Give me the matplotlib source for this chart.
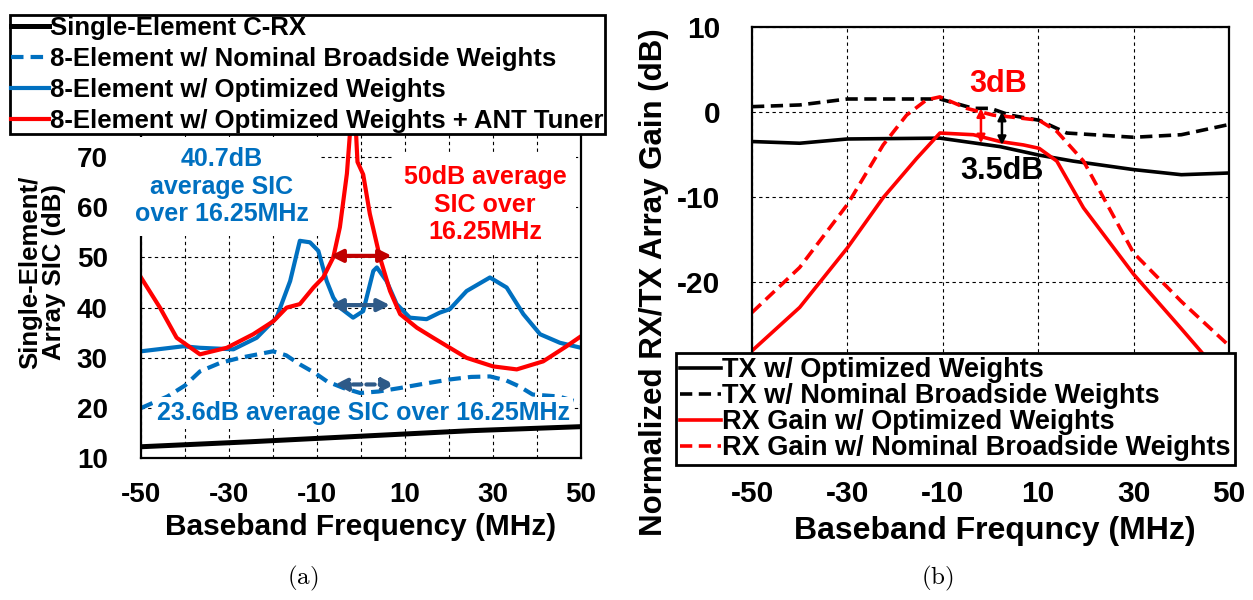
import numpy as np
import matplotlib
matplotlib.use("Agg")
import matplotlib.pyplot as plt

plt.rcParams["font.family"] = ["Liberation Sans", "DejaVu Sans"]
plt.rcParams["font.weight"] = "bold"
plt.rcParams["mathtext.fontset"] = "cm"
plt.rcParams["axes.unicode_minus"] = False

##### (a) SIC data
f_single = [-50, -25, 0, 25, 50]
sic_single = [12.3, 13.3, 14.4, 15.5, 16.3]

f_nominal = [-50, -44, -40, -36.6, -32, -27.5, -20, -17, -13.9, -10.5, -7.7, -4, -0.2, 4, 8.9, 14, 20.2, 25, 29.3, 33, 36, 39, 45, 50]
sic_nominal = [20.0, 22.3, 24.5, 27.3, 29.0, 30.0, 31.3, 30.5, 28.7, 27.0, 25.3, 24.0, 23.0, 23.3, 24.0, 24.8, 25.7, 26.2, 26.3, 25.5, 24.3, 22.7, 22.3, 21.0]

f_opt = [-50, -40.4, -36.6, -29, -23.7, -19.2, -16.1, -13.9, -11.6, -9.7, -7.8, -6.3, -4.8, -1.8, 0.5, 2.8, 3.6, 5.8, 8.1, 11.1, 14.9, 17.9, 20.2, 24, 29.3, 33.1, 36.9, 40.7, 45.2, 50]
sic_opt = [31.3, 32.3, 32.0, 31.7, 34.0, 38.0, 45.3, 53.3, 53.0, 51.3, 45.3, 42.0, 40.0, 38.0, 39.3, 47.3, 48.0, 45.3, 40.7, 38.0, 37.7, 39.0, 39.7, 43.3, 46.0, 44.0, 38.7, 34.7, 33.0, 32.0]

f_tuner = [-50, -45.7, -41.9, -36.6, -30.5, -24.5, -19.9, -16.9, -13.9, -10.8, -8.6, -6.3, -4.8, -3.2, -2.4, -1.8, -1.2, -0.8, 0.5, 2, 4.3, 6.6, 8.9, 12.7, 16.4, 24, 30, 35.4, 41.4, 46.7, 50]
sic_tuner = [46.0, 40.0, 34.0, 30.7, 32.0, 34.7, 37.3, 40.0, 40.7, 44.0, 46.0, 50.0, 56.0, 66.7, 76.0, 80.0, 76.0, 69.0, 66.5, 58.7, 50.0, 43.3, 38.7, 36.0, 34.0, 30.0, 28.3, 27.7, 29.3, 32.3, 34.3]

##### (b) gain data
f_tx_opt = [-50, -40, -30, -10.6, 2, 10.2, 17.3, 30, 40, 50]
g_tx_opt = [-3.5, -3.7, -3.2, -3.1, -4.1, -5.1, -5.8, -6.8, -7.4, -7.2]
f_tx_nom = [-50, -40, -30, -10.6, -3.6, 0, 4.1, 10.2, 16, 30, 40, 50]
g_tx_nom = [0.6, 0.8, 1.5, 1.5, 0.4, 0.4, -0.4, -1.0, -2.5, -3.0, -2.7, -1.5]
f_rx_opt = [-50, -40, -30, -22.5, -15.5, -10.6, -3.6, 2, 6.9, 10.2, 13.9, 19.5, 30, 40, 50]
g_rx_opt = [-28.1, -23.0, -16.0, -10.1, -5.5, -2.5, -2.7, -3.5, -3.9, -4.3, -5.8, -11.3, -19.1, -25.5, -32.0]
f_rx_nom = [-50, -40, -30, -22.5, -17.6, -13.4, -10.6, -5, 0.6, 4.1, 10.2, 13.9, 19.5, 30, 40, 50]
g_rx_nom = [-23.6, -18.3, -10.9, -3.9, -0.4, 1.4, 1.75, 0.4, -0.4, -0.6, -1.0, -2.3, -5.8, -16.6, -22.3, -27.5]

W, H = 1253, 600
BLUE = "#0070C0"
RED = "#FF0000"
DRED = "#C00000"
DBLUE = "#2E5A88"

fig = plt.figure(figsize=(W / 100, H / 100), dpi=100)
ax1 = fig.add_axes([141 / W, 1 - 458.3 / H, 440 / W, 351.6 / H])
ax2 = fig.add_axes([752 / W, 1 - 452 / H, 477 / W, 425.3 / H])

grid_kw = dict(color="black", linestyle=(0, (3, 3)), linewidth=0.8)

#### (a)
ax1.plot(f_single, sic_single, color="black", lw=3.6, label="Single-Element C-RX", zorder=5)
ax1.plot(f_nominal, sic_nominal, color=BLUE, lw=3, dashes=(3, 1.7), label="8-Element w/ Nominal Broadside Weights")
ax1.plot(f_opt, sic_opt, color=BLUE, lw=3, label="8-Element w/ Optimized Weights")
ax1.plot(f_tuner, sic_tuner, color=RED, lw=3, label="8-Element w/ Optimized Weights + ANT Tuner")
ax1.set_xlim(-50, 50)
ax1.set_ylim(10, 80)
ax1.set_xticks(np.arange(-50, 51, 10))
ax1.set_xticklabels(["-50", "", "-30", "", "-10", "", "10", "", "30", "", "50"])
ax1.set_yticks(np.arange(10, 71, 10))
ax1.tick_params(length=0, labelsize=20, pad=17)
ax1.tick_params(axis="y", pad=24)
ax1.set_axisbelow(True)
ax1.grid(True, **grid_kw)
for s in ax1.spines.values():
    s.set_linewidth(1.6)

box = dict(boxstyle="square,pad=0.4", fc="white", ec="none")
ax1.text(-31.6, 64.1, "40.7dB\naverage SIC\nover 16.25MHz", color=BLUE, fontsize=18,
         ha="center", va="center", bbox=box, zorder=4)
ax1.text(28.2, 60.5, "50dB average\nSIC over\n16.25MHz", color=RED, fontsize=18,
         ha="center", va="center", bbox=box, zorder=4)
ax1.text(0.5, 19.0, "23.6dB average SIC over 16.25MHz", color=BLUE, fontsize=18,
         ha="center", va="center", bbox=dict(boxstyle="square,pad=0.15", fc="white", ec="none"), zorder=4)

ax1.annotate("", xy=(7, 50.3), xytext=(-7, 50.3),
             arrowprops=dict(arrowstyle="<|-|>", color=DRED, lw=3, mutation_scale=18, shrinkA=0, shrinkB=0))
ax1.annotate("", xy=(6.6, 40.5), xytext=(-7, 40.5),
             arrowprops=dict(arrowstyle="<|-|>", color=DBLUE, lw=3, mutation_scale=18, shrinkA=0, shrinkB=0))
ax1.annotate("", xy=(7.7, 24.7), xytext=(-5.9, 24.7),
             arrowprops=dict(arrowstyle="<|-|>", color=DBLUE, lw=3, ls=(0, (2, 1.2)), mutation_scale=18, shrinkA=0, shrinkB=0))

fig.text(42 / W, 1 - 272 / H, "Single-Element/\nArray SIC (dB)", rotation=90, fontsize=18.5,
         ha="center", va="center", multialignment="center", linespacing=1.0)
fig.text(361 / W, 1 - 527 / H, "Baseband Frequency (MHz)", fontsize=21.5, ha="center", va="center")
fig.text(303 / W, 1 - 578 / H, r"$\mathrm{(a)}$", fontsize=18, ha="center", va="center")

leg1 = fig.legend(handles=ax1.get_lines(), loc="upper left", bbox_to_anchor=(10 / W, 1 - 15 / H),
                  fontsize=18.5, handlelength=1.45, handletextpad=0.05, labelspacing=0.27,
                  borderpad=0.05, borderaxespad=0, fancybox=False, framealpha=1, edgecolor="black")
leg1.get_frame().set_linewidth(2)
leg1.set_zorder(10)

#### (b)
ax2.plot(f_tx_opt, g_tx_opt, color="black", lw=2.6, label="TX w/ Optimized Weights")
ax2.plot(f_tx_nom, g_tx_nom, color="black", lw=2.6, dashes=(3.4, 1.8), label="TX w/ Nominal Broadside Weights")
ax2.plot(f_rx_opt, g_rx_opt, color=RED, lw=2.6, label="RX Gain w/ Optimized Weights")
ax2.plot(f_rx_nom, g_rx_nom, color=RED, lw=2.6, dashes=(3.4, 1.8), label="RX Gain w/ Nominal Broadside Weights")
ax2.set_xlim(-50, 50)
ax2.set_ylim(-40, 10)
ax2.set_xticks(np.arange(-50, 51, 20))
ax2.set_yticks([-30, -20, -10, 0, 10])
ax2.set_yticklabels(["", "-20", "-10", "0", "10"])
ax2.tick_params(length=0, labelsize=21.5, pad=20)
ax2.tick_params(axis="y", pad=23)
ax2.set_axisbelow(True)
ax2.grid(True, **grid_kw)
for s in ax2.spines.values():
    s.set_linewidth(1.6)

ax2.annotate("", xy=(-2.0, -3.7), xytext=(-2.0, 0.4),
             arrowprops=dict(arrowstyle="<|-|>", color=RED, lw=1.8, mutation_scale=12, shrinkA=0, shrinkB=0))
ax2.annotate("", xy=(2.4, -3.9), xytext=(2.4, 0.0),
             arrowprops=dict(arrowstyle="<|-|>", color="black", lw=1.8, mutation_scale=12, shrinkA=0, shrinkB=0))
ax2.text(1.6, 3.3, "3dB", color=RED, fontsize=22, ha="center", va="center")
ax2.text(2.4, -7.0, "3.5dB", color="black", fontsize=22, ha="center", va="center")

fig.text(654 / W, 1 - 282 / H, "Normalized RX/TX Array Gain (dB)", rotation=90, fontsize=22.5,
         ha="center", va="center")
fig.text(995 / W, 1 - 531 / H, "Baseband Frequncy (MHz)", fontsize=23, ha="center", va="center")
fig.text(937 / W, 1 - 578 / H, r"$\mathrm{(b)}$", fontsize=18, ha="center", va="center")

leg2 = fig.legend(handles=ax2.get_lines(), loc="upper left", bbox_to_anchor=(676 / W, 1 - 353 / H),
                  fontsize=19.5, handlelength=1.5, handletextpad=0.05, labelspacing=0.0,
                  borderpad=0.15, borderaxespad=0, fancybox=False, framealpha=1, edgecolor="black")
leg2.get_frame().set_linewidth(2)
leg2.set_zorder(10)

fig.savefig("out.png", dpi=100)
